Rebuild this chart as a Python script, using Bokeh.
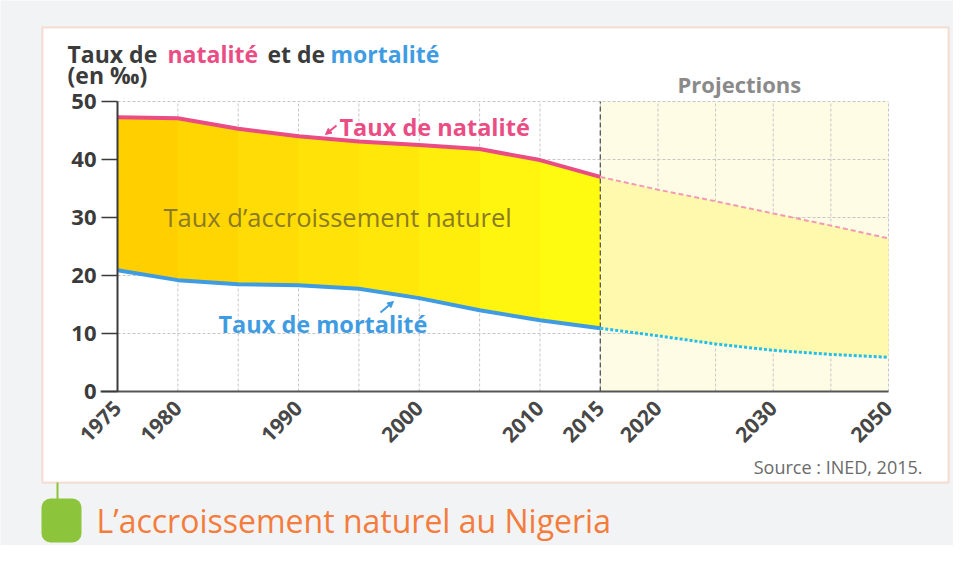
import numpy as np
from bokeh.plotting import figure
from bokeh.models import (Range1d, FixedTicker, Label, BoxAnnotation, Arrow, NormalHead)
from bokeh.embed import file_html
from bokeh.resources import INLINE

# ---------------- data ----------------
years_hist = [1975, 1980, 1985, 1990, 1995, 2000, 2005, 2010, 2015]
natalite_hist = [47.3, 47.1, 45.3, 44.0, 43.1, 42.5, 41.8, 39.9, 37.0]
mortalite_hist = [20.9, 19.2, 18.5, 18.3, 17.7, 16.1, 14.0, 12.3, 10.9]

years_proj = [2015, 2020, 2025, 2030, 2040, 2050]
natalite_proj = [37.0, 34.8, 32.8, 30.7, 28.6, 26.4]
mortalite_proj = [10.9, 9.6, 8.2, 7.1, 6.4, 5.9]

tick_years = [1975, 1980, 1990, 2000, 2010, 2015, 2020, 2030, 2050]
grid_years = [1975, 1980, 1985, 1990, 1995, 2000, 2005, 2010, 2015,
              2020, 2025, 2030, 2040, 2050]
y_ticks = [0, 10, 20, 30, 40, 50]

# piecewise year scale of the original (projection part compressed)
scale_years = [1975, 2015, 2020, 2030, 2050]
scale_pos = [0, 8, 8.955, 10.865, 12.775]


def xpos(years):
    return [round(float(v), 4) for v in np.interp(years, scale_years, scale_pos)]


def mix(c1, c2, t):
    a = [int(c1[i:i + 2], 16) for i in (1, 3, 5)]
    b = [int(c2[i:i + 2], 16) for i in (1, 3, 5)]
    return "#%02x%02x%02x" % tuple(int(round(a[k] + (b[k] - a[k]) * t)) for k in range(3))


# ---------------- layout (pixels inside the 953x545 canvas) ----------------
W, H = 953, 545
PL, PR, PT, PB = 117, 888, 101, 391          # where 1975/2050 and 50/0 sit
x0, x1 = 0.0, scale_pos[-1]
y0, y1 = 0.0, 50.0
kx = (PR - PL) / (x1 - x0)
ky = (PB - PT) / (y1 - y0)
xr = Range1d(x0 - PL / kx, x1 + (W - PR) / kx)
yr = Range1d(y0 - (H - PB) / ky, y1 + PT / ky)

PINK = "#ea4c84"
BLUE = "#3f9ce2"
DARK = "#3b3b3b"
FONT = "Open Sans"

p = figure(width=W, height=H, output_backend="svg", toolbar_location=None,
           x_range=xr, y_range=yr, min_border=0)
p.title.visible = False
p.background_fill_color = "#f1f3f5"
p.border_fill_color = "#f1f3f5"
p.outline_line_color = None
p.xgrid.visible = False
p.ygrid.visible = False


def px(X):      # picture x -> canvas screen x
    return X


def py(Y):      # picture y -> canvas screen y (from bottom)
    return H - Y


def sbox(l, r, t, b, **kw):
    return BoxAnnotation(left=px(l), right=px(r), top=py(t), bottom=py(b),
                         left_units="screen", right_units="screen",
                         top_units="screen", bottom_units="screen", **kw)


# white card with orange frame
p.add_layout(sbox(42, 948, 27, 482, fill_color="white", fill_alpha=1,
                  line_color="#f39c72", line_width=2, level="image"))

# projection background
p.add_layout(BoxAnnotation(left=xpos([2015])[0], right=xpos([2050])[0],
                           bottom=0, top=50, fill_color="#fffce6", fill_alpha=1,
                           line_color=None, level="image"))

# grid lines (data coordinates)
gx = xpos(grid_years)
p.segment(x0=gx, y0=[0] * len(gx), x1=gx, y1=[50] * len(gx),
          line_color="#c6c6c6", line_width=1, line_dash="3 2")
gy = y_ticks[1:]
p.segment(x0=[xpos([1975])[0]] * len(gy), y0=gy, x1=[xpos([2050])[0]] * len(gy), y1=gy,
          line_color="#c6c6c6", line_width=1, line_dash="3 2")

xh = xpos(years_hist)
xp = xpos(years_proj)

# natural growth area (historical) with gold -> yellow shading
p.varea(x=xh, y1=mortalite_hist, y2=natalite_hist, fill_color="#ffe600")
n = len(xh) - 1
for i in range(n):
    p.varea(x=xh[i:i + 2], y1=mortalite_hist[i:i + 2], y2=natalite_hist[i:i + 2],
            fill_color=mix("#ffcf00", "#fffb10", i / (n - 1)))

# projection area
p.varea(x=xp, y1=mortalite_proj, y2=natalite_proj, fill_color="#fff9ad")

# 2015 separator
s15 = xpos([2015])[0]
p.segment(x0=[s15], y0=[0], x1=[s15], y1=[50], line_color="#555555",
          line_width=1.3, line_dash="5 3")

# lines
p.line(xh, natalite_hist, line_color=PINK, line_width=4)
p.line(xh, mortalite_hist, line_color=BLUE, line_width=4)
p.line(xp, natalite_proj, line_color="#f29ab5", line_width=2, line_dash="5 3")
p.line(xp, mortalite_proj, line_color="#25bde9", line_width=3, line_dash="3 2")

# axes placed at 0 / 1975
p.xaxis.fixed_location = 0
p.xaxis.bounds = (-0.28, xpos([2050])[0])
p.xaxis.ticker = FixedTicker(ticks=xpos(tick_years))
p.xaxis.major_label_overrides = {k: str(y) for k, y in zip(xpos(tick_years), tick_years)}
p.xaxis.major_label_orientation = np.pi / 4
p.xaxis.major_label_text_font = FONT
p.xaxis.major_label_text_font_style = "bold"
p.xaxis.major_label_text_font_size = "21px"
p.xaxis.major_label_text_color = "#474747"
p.xaxis.axis_line_color = "#555555"
p.xaxis.axis_line_width = 2
p.xaxis.major_tick_line_color = None
p.xaxis.minor_tick_line_color = None
p.xaxis.major_label_standoff = 7

p.yaxis.fixed_location = 0
p.yaxis.bounds = (0, 50)
p.yaxis.ticker = FixedTicker(ticks=y_ticks)
p.yaxis.major_label_text_font = FONT
p.yaxis.major_label_text_font_style = "bold"
p.yaxis.major_label_text_font_size = "22px"
p.yaxis.major_label_text_color = DARK
p.yaxis.axis_line_color = DARK
p.yaxis.axis_line_width = 2
p.yaxis.major_tick_out = 16
p.yaxis.major_tick_in = 0
p.yaxis.major_tick_line_color = DARK
p.yaxis.major_tick_line_width = 1.5
p.yaxis.minor_tick_line_color = None
p.yaxis.major_label_standoff = 5

# caption icon
p.add_layout(sbox(56, 58, 482, 500, fill_color="#8cc43c", fill_alpha=1,
                  line_color=None))
p.add_layout(sbox(41, 81, 498, 542, fill_color="#8cc43c", fill_alpha=1,
                  line_color=None, border_radius=9))


def lab(text, X, Y, color, size, style="bold", align="left"):
    p.add_layout(Label(x=px(X), y=py(Y), x_units="screen", y_units="screen",
                       text=text, text_color=color, text_font=FONT,
                       text_font_size=size, text_font_style=style,
                       text_align=align, text_baseline="middle"))


# title
lab("Taux de", 67, 53, DARK, "23px")
lab("natalité", 167, 53, PINK, "23px")
lab("et de", 267, 53, DARK, "23px")
lab("mortalité", 330, 53, BLUE, "23px")
lab("(en ‰)", 67, 74, DARK, "23px")

lab("Projections", 677, 83, "#8a8a8a", "22px")
lab("Taux de natalité", 339, 126, PINK, "23.5px")
lab("Taux d’accroissement naturel", 163, 216, "#8c7a22", "25.5px", style="normal")
lab("Taux de mortalité", 218, 323, BLUE, "23.5px")
lab("Source : INED, 2015.", 922, 466, "#6a6a6a", "18px", style="normal", align="right")
lab("L’accroissement naturel au Nigeria", 96, 520, "#f47c3c", "32px", style="normal")

# small arrows pointing at the curves
p.add_layout(Arrow(end=NormalHead(size=6, fill_color=PINK, line_color=PINK),
                   x_start=px(336), y_start=py(125), x_end=px(325), y_end=py(134),
                   start_units="screen", end_units="screen",
                   line_color=PINK, line_width=2))
p.add_layout(Arrow(end=NormalHead(size=6, fill_color=BLUE, line_color=BLUE),
                   x_start=px(380), y_start=py(312), x_end=px(393), y_end=py(301),
                   start_units="screen", end_units="screen",
                   line_color=BLUE, line_width=2))

open("out.html", "w").write(file_html(p, INLINE))
